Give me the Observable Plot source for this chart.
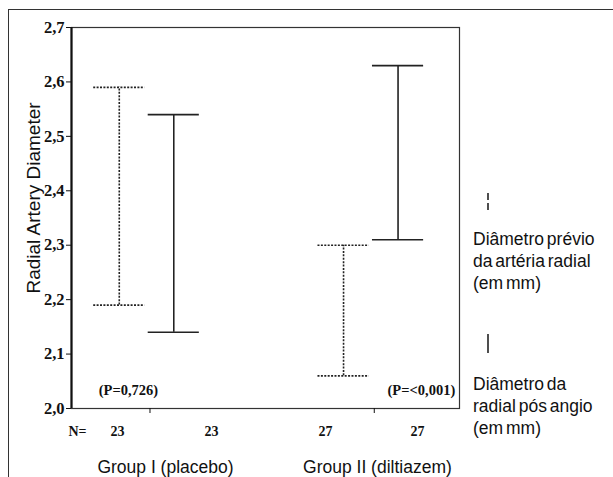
<!DOCTYPE html>
<html><head><meta charset="utf-8">
<script src="https://cdn.jsdelivr.net/npm/d3@7"></script>
<script src="https://cdn.jsdelivr.net/npm/@observablehq/plot@0.6"></script>
<style>
body{margin:0;background:#fff;}
#wrap{position:relative;width:613px;height:477px;overflow:hidden;font-family:"Liberation Sans",Arial,sans-serif;color:#111;}
#wrap svg{position:absolute;left:0;top:0;}
.outer{position:absolute;left:8px;top:9px;right:0;bottom:0;border-top:1.5px solid #333;border-left:1.5px solid #333;}
.leg{position:absolute;left:473px;font-size:17.5px;line-height:22px;word-spacing:-2px;white-space:nowrap;}
.sym{position:absolute;}
</style></head><body><div id="wrap"><div class="outer"></div></div>
<script>
// ---- data ----
const groups = ["Group I (placebo)", "Group II (diltiazem)"];
const preLow = [2.19, 2.06];
const preHigh = [2.59, 2.30];
const postLow = [2.14, 2.31];
const postHigh = [2.54, 2.63];
const nPre = [23, 27];
const nPost = [23, 27];
const pLabels = ["(P=0,726)", "(P=<0,001)"];
const yTicks = [2.0, 2.1, 2.2, 2.3, 2.4, 2.5, 2.6, 2.7];
const yTitle = "Radial Artery Diameter";
const legendPre = ["Diâmetro prévio", "da artéria radial", "(em mm)"];
const legendPost = ["Diâmetro da", "radial pós angio", "(em mm)"];

// ---- layout (in x-scale units around each group centre) ----
const offPre = -0.137, offPost = 0.106, capHalf = 0.114;
const nOff = [[-0.145, 0.274], [-0.218, 0.193]];
const pOff = [-0.096, 0.21];
const gOff = [0.069, 0.014];
const xDomain = [-0.35, 1.38];

const bars = [];
groups.forEach((g, i) => {
  bars.push({x: i + offPre, lo: preLow[i], hi: preHigh[i], kind: "pre"});
  bars.push({x: i + offPost, lo: postLow[i], hi: postHigh[i], kind: "post"});
});
const caps = bars.flatMap(b => [{...b, y: b.lo}, {...b, y: b.hi}]);
const nData = groups.flatMap((g, i) => [
  {x: i + nOff[i][0], n: nPre[i]},
  {x: i + nOff[i][1], n: nPost[i]}
]);
const pData = groups.map((g, i) => ({x: i + pOff[i], y: 2.033, t: pLabels[i]}));
const gData = groups.map((g, i) => ({x: i + gOff[i], t: g}));

const dash = "2,1.4";
const sans = "Liberation Sans, Arial, sans-serif";
const serif = "Liberation Serif, Times New Roman, serif";
const fmt = d => d.toFixed(1).replace(".", ",");

const chart = Plot.plot({
  width: 613, height: 477,
  marginLeft: 71, marginRight: 154, marginTop: 27, marginBottom: 69,
  style: {fontFamily: serif, fontSize: "14px", fontWeight: "bold", background: "transparent", overflow: "visible", color: "#111"},
  x: {domain: xDomain, axis: null},
  y: {domain: [2.0, 2.7], axis: null},
  marks: [
    Plot.frame({stroke: "#333", strokeWidth: 1.2}),
    Plot.ruleX([xDomain[0]], {stroke: "#111", strokeWidth: 2.2}),
    Plot.axisY({ticks: yTicks, tickFormat: () => "", tickSize: 5, label: null, stroke: "#111"}),
    Plot.text(yTicks, {y: d => d, text: fmt, frameAnchor: "left", textAnchor: "end", dx: -7, fontSize: 16.5, fontWeight: "bold", fill: "#111"}),
    Plot.axisX({ticks: [0, 1], tickSize: 5, tickFormat: () => "", label: null}),
    Plot.ruleX(bars.filter(d => d.kind === "pre"), {x: "x", y1: "lo", y2: "hi", stroke: "#222", strokeWidth: 1.6, strokeDasharray: dash}),
    Plot.ruleX(bars.filter(d => d.kind === "post"), {x: "x", y1: "lo", y2: "hi", stroke: "#222", strokeWidth: 1.6}),
    Plot.ruleY(caps.filter(d => d.kind === "pre"), {y: "y", x1: d => d.x - capHalf, x2: d => d.x + capHalf, stroke: "#222", strokeWidth: 1.6, strokeDasharray: dash}),
    Plot.ruleY(caps.filter(d => d.kind === "post"), {y: "y", x1: d => d.x - capHalf, x2: d => d.x + capHalf, stroke: "#222", strokeWidth: 1.6}),
    Plot.text(pData, {x: "x", y: "y", text: "t", fontSize: 14.5, fontWeight: "bold", fill: "#111"}),
    Plot.text(["N="], {frameAnchor: "bottom-left", textAnchor: "middle", dx: 6, dy: 27, fontSize: 14, fontWeight: "bold", fill: "#111"}),
    Plot.text(nData, {x: "x", frameAnchor: "bottom", text: d => String(d.n), dy: 27, fontSize: 14, fontWeight: "bold", fill: "#111"}),
    Plot.text(gData, {x: "x", frameAnchor: "bottom", text: "t", dy: 64, lineAnchor: "bottom", fontFamily: sans, fontWeight: "normal", fontSize: 17.5, fill: "#111"}),
    Plot.text([yTitle], {frameAnchor: "left", textAnchor: "middle", rotate: -90, dx: -38, dy: -20, fontFamily: sans, fontWeight: "normal", fontSize: 19, fill: "#111"})
  ]
});
const wrap = document.getElementById("wrap");
wrap.appendChild(chart);

// legend
function addLegend(lines, top, symTop, dashed) {
  const s = document.createElementNS("http://www.w3.org/2000/svg", "svg");
  s.setAttribute("width", 6); s.setAttribute("height", 22);
  s.setAttribute("class", "sym");
  s.style.left = "485px"; s.style.top = symTop + "px";
  const l = document.createElementNS("http://www.w3.org/2000/svg", "line");
  l.setAttribute("x1", 3); l.setAttribute("x2", 3); l.setAttribute("y1", 1); l.setAttribute("y2", 20);
  l.setAttribute("stroke", "#222"); l.setAttribute("stroke-width", 1.6);
  if (dashed) l.setAttribute("stroke-dasharray", "7,3");
  s.appendChild(l);
  wrap.appendChild(s);
  const d = document.createElement("div");
  d.className = "leg"; d.style.top = top + "px";
  d.innerHTML = lines.join("<br>");
  wrap.appendChild(d);
}
addLegend(legendPre, 228, 192, true);
addLegend(legendPost, 373, 333, false);
</script></body></html>
